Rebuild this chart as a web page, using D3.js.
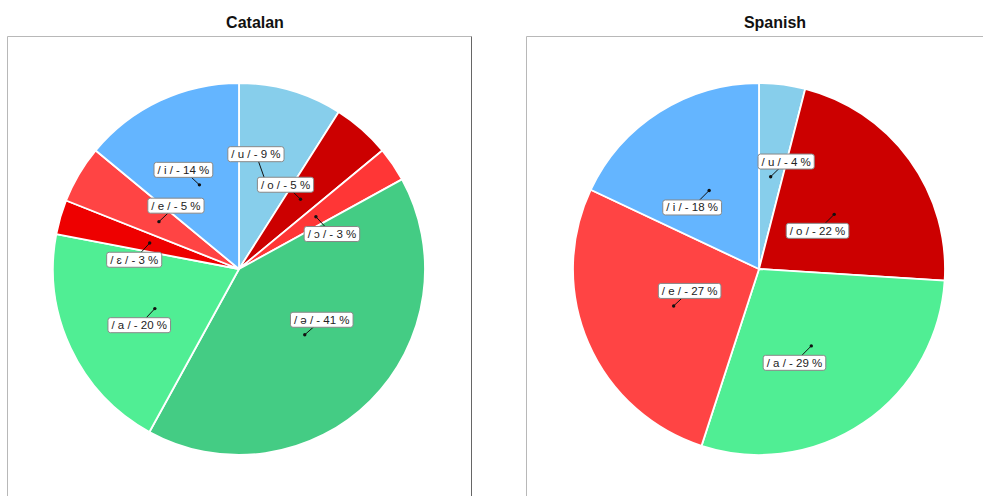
<!DOCTYPE html>
<html>
<head>
<meta charset="utf-8">
<script src="https://cdn.jsdelivr.net/npm/d3@7/dist/d3.min.js"></script>
<style>
  html, body { margin: 0; padding: 0; background: #fff; }
  svg { display: block; }
</style>
</head>
<body>
<svg id="chart" width="983" height="496"></svg>
<script>
// ---- data ----
const catalanPhonemes = ["u", "o", "ɔ", "ə", "a", "ɛ", "e", "i"];
const catalanValues   = [9, 5, 3, 41, 20, 3, 5, 14];
const spanishPhonemes = ["u", "o", "a", "e", "i"];
const spanishValues   = [4, 22, 29, 27, 18];
const chartTitles     = ["Catalan", "Spanish"];

// ---- styling / layout (not data) ----
const phonemeColors = {
  "u": "#87CEEB", "o": "#CC0000", "ɔ": "#FF3636", "ə": "#44CC84",
  "a": "#50EE94", "ɛ": "#EE0000", "e": "#FF4444", "i": "#64B5FF"
};
// label box offsets from slice centroid (layout)
const catalanLabelOffsets = [[-9,-25.5],[-15,-14.5],[16,17.3],[17,-15],[-15.6,16.6],[-15.5,16.7],[17,-16],[-16,-15]];
const spanishLabelOffsets = [[15.5,-15.2],[-16.7,16.5],[-16.8,16.9],[16,-15],[-17,17]];

const svg = d3.select("#chart");
const radius = 186;

const panels = [
  { title: chartTitles[0], phonemes: catalanPhonemes, values: catalanValues, offsets: catalanLabelOffsets, x0: 7, cx: 239 },
  { title: chartTitles[1], phonemes: spanishPhonemes, values: spanishValues, offsets: spanishLabelOffsets, x0: 526, cx: 759 }
];

const pie = d3.pie().sort(null).value(d => d.value);
const arc = d3.arc().innerRadius(0).outerRadius(radius);

panels.forEach(p => {
  const g = svg.append("g");
  // panel frame
  const top = 36.5, w = 464.5;
  g.append("line").attr("x1", p.x0 + 0.5).attr("x2", p.x0 + w).attr("y1", top).attr("y2", top)
    .attr("stroke", "#b8b8b8").attr("stroke-width", 1);
  g.append("line").attr("x1", p.x0 + 0.5).attr("x2", p.x0 + 0.5).attr("y1", top).attr("y2", 500)
    .attr("stroke", "#b8b8b8").attr("stroke-width", 1);
  g.append("line").attr("x1", p.x0 + w).attr("x2", p.x0 + w).attr("y1", top).attr("y2", 500)
    .attr("stroke", "#666").attr("stroke-width", 1);

  // title
  g.append("text")
    .attr("x", p.cx + 16).attr("y", 28)
    .attr("text-anchor", "middle")
    .attr("font-family", "Liberation Sans, Arial, sans-serif")
    .attr("font-weight", "bold")
    .attr("font-size", 16)
    .attr("fill", "#111")
    .text(p.title);

  const data = p.phonemes.map((ph, i) => ({ phoneme: ph, value: p.values[i], offset: p.offsets[i] }));
  const arcs = pie(data);
  const pg = g.append("g").attr("transform", `translate(${p.cx},269)`);

  pg.selectAll("path.slice").data(arcs).enter().append("path")
    .attr("class", "slice")
    .attr("d", arc)
    .attr("fill", d => phonemeColors[d.data.phoneme])
    .attr("stroke", "#fff")
    .attr("stroke-width", 1.8)
    .attr("stroke-linejoin", "round");

  // labels
  arcs.forEach(d => {
    const [cx, cy] = arc.centroid(d);
    const lx = cx + d.data.offset[0], ly = cy + d.data.offset[1];
    const lg = pg.append("g");
    lg.append("line").attr("x1", cx).attr("y1", cy).attr("x2", lx).attr("y2", ly)
      .attr("stroke", "#111").attr("stroke-width", 1);
    lg.append("circle").attr("cx", cx).attr("cy", cy).attr("r", 1.7).attr("fill", "#111");
    const txt = lg.append("text")
      .attr("x", lx).attr("y", ly)
      .attr("text-anchor", "middle")
      .attr("dominant-baseline", "central")
      .attr("font-family", "Liberation Sans, Arial, sans-serif")
      .attr("font-size", 11.5)
      .attr("fill", "#222")
      .text(`/ ${d.data.phoneme} / - ${d.data.value} %`);
    const bb = txt.node().getBBox();
    lg.insert("rect", "text")
      .attr("x", bb.x - 3.5).attr("y", ly - 7.5)
      .attr("width", bb.width + 7).attr("height", 15)
      .attr("rx", 2.5)
      .attr("fill", "#fff")
      .attr("stroke", "#888")
      .attr("stroke-width", 1);
  });
});
</script>
</body>
</html>
